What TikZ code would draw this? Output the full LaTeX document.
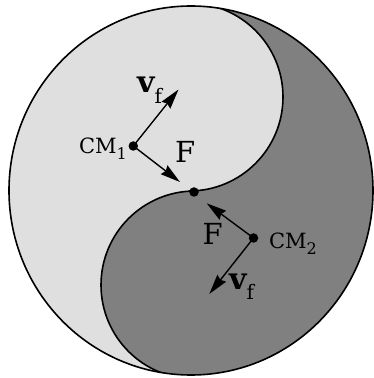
\documentclass[tikz,border=0pt]{standalone}
\usepackage{fontspec}
\usetikzlibrary{arrows.meta}
\newfontfamily\lblfont{DejaVu Serif}
\definecolor{lightg}{gray}{0.875}
\definecolor{darkg}{gray}{0.5}
\begin{document}
\begin{tikzpicture}[x=1pt,y=1pt,
  rim/.style={line width=1.6pt},
  vec/.style={line width=1.4pt, -{Stealth[length=20pt,width=11pt,inset=2pt]}},
  blob/.style={circle, fill=black, inner sep=0pt, minimum size=9.5pt},
  cmlbl/.style={inner sep=0pt, anchor=base, font=\lblfont\fontsize{21}{24}\selectfont},
  flbl/.style={inner sep=0pt, anchor=base west, font=\lblfont\fontsize{29}{32}\selectfont},
  vlbl/.style={inner sep=0pt, anchor=base west, font=\lblfont\fontsize{30}{33}\selectfont\bfseries}]
\useasboundingbox (0,0) rectangle (374,378);
\begin{scope}
  \clip (191,187.5) ellipse [x radius=182, y radius=184.5];
  \fill[lightg] (0,0) rectangle (374,378);
  \fill[darkg] (192,0) rectangle (374,378);
  \fill[lightg] (189,281) circle [radius=94];
  \fill[darkg] (195,93) circle [radius=94];
  \draw[rim] (189,187) arc [start angle=-90, end angle=90, radius=94];
  \draw[rim] (195,187) arc [start angle=90, end angle=270, radius=94];
\end{scope}
\draw[rim] (191,187.5) ellipse [x radius=182, y radius=184.5];

\node[blob] (mid) at (194,186) {};
\node[blob] (c1) at (133.3,232) {};
\node[blob] (c2) at (253.5,140) {};

\coordinate (v1tip) at (178.5,288.5);
\coordinate (f1tip) at (180,196);
\coordinate (f2tip) at (206.7,174.7);
\coordinate (v2tip) at (209.3,84);

\draw[vec] (c1.center) -- (v1tip);
\draw[vec] (c1.center) -- (f1tip);
\draw[vec] (c2.center) -- (f2tip);
\draw[vec] (c2.center) -- (v2tip);

\node[cmlbl] (cm1) at (103,224.7) {CM\raisebox{-6pt}{\fontsize{16}{16}\selectfont 1}};
\node[cmlbl] (cm2) at (293,129.7) {CM\raisebox{-6pt}{\fontsize{16}{16}\selectfont 2}};
\node[flbl] (F1) at (175,215.5) {F};
\node[flbl] (F2) at (202.5,133) {F};
\node[vlbl] (v1) at (137,285) {v\raisebox{-11pt}{\fontsize{20}{20}\selectfont\mdseries f}};
\node[vlbl] (v2) at (229,88) {v\raisebox{-10pt}{\fontsize{20}{20}\selectfont\mdseries f}};
\end{tikzpicture}
\end{document}
